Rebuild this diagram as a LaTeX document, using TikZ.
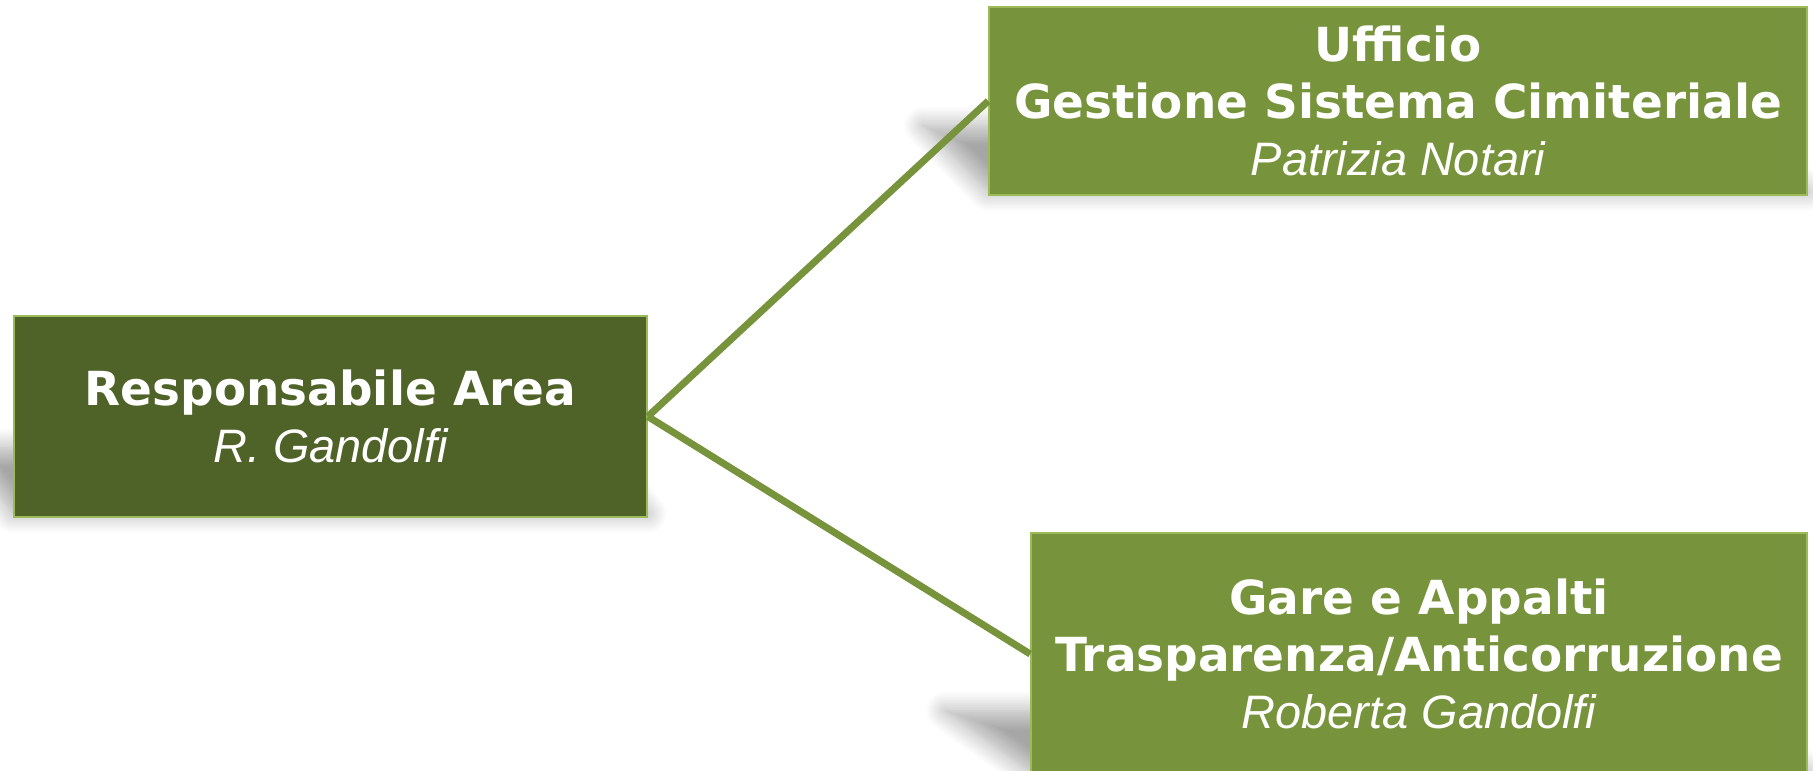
\documentclass[tikz,border=0pt]{standalone}
\usepackage{fontspec}
\setmainfont{Liberation Sans}
\newfontfamily\titlefont{DejaVu Sans}
\usetikzlibrary{shadows.blur,backgrounds}
\definecolor{verdescuro}{HTML}{4F6228}
\definecolor{verde}{HTML}{77933C}
\definecolor{verdechiaro}{HTML}{9BBB59}

\begin{document}
\begin{tikzpicture}[x=0.02cm,y=-0.02cm,semithick]
\tikzstyle{every node}=[text=white,font=\fontsize{26.7}{32.4}\selectfont,align=center]
\tikzstyle{ufficio}=[rectangle,draw=verdechiaro,line width=1pt,fill=verde,inner sep=0pt]
\tikzstyle{ombra}=[blur shadow={shadow xshift=0pt,shadow yshift=0pt,shadow blur radius=11pt,shadow blur steps=12,shadow opacity=35}]
\useasboundingbox (0,0) rectangle (1813,771);
\node[ufficio,fill=verdescuro,minimum width=12.66cm,minimum height=4.02cm] (R) at (330.5,416.5)
  {{\titlefont\bfseries Responsabile Area}\\{\itshape R. Gandolfi}};
\node[ufficio,minimum width=16.36cm,minimum height=3.76cm] (U) at (1398,101)
  {{\titlefont\bfseries Ufficio}\\{\titlefont\bfseries Gestione Sistema Cimiteriale}\\{\itshape Patrizia Notari}};
\node[ufficio,minimum width=15.52cm,minimum height=4.84cm] (G) at (1419,654)
  {{\titlefont\bfseries Gare e Appalti}\\{\titlefont\bfseries Trasparenza/Anticorruzione}\\{\itshape Roberta Gandolfi}};
\path[verde,line width=4pt] (R.east) edge (U.west)
                                    edge (G.west);
% ombre
\begin{pgfonlayer}{background}
\path[ombra] ([shift={(0,-4)}]R.south west) -- ([shift={(0,-4)}]R.south east) -- ([shift={(-50,-70)}]R.south east) -- ([shift={(-50,-70)}]R.south west) -- cycle;
\path[ombra] ([shift={(0,-4)}]U.south west) -- ([shift={(0,-4)}]U.south east) -- ([shift={(-65,-70)}]U.south east) -- ([shift={(-65,-70)}]U.south west) -- cycle;
\path[ombra] ([shift={(0,-4)}]G.south west) -- ([shift={(0,-4)}]G.south east) -- ([shift={(-85,-65)}]G.south east) -- ([shift={(-85,-65)}]G.south west) -- cycle;
\end{pgfonlayer}
\end{tikzpicture}
\end{document}
